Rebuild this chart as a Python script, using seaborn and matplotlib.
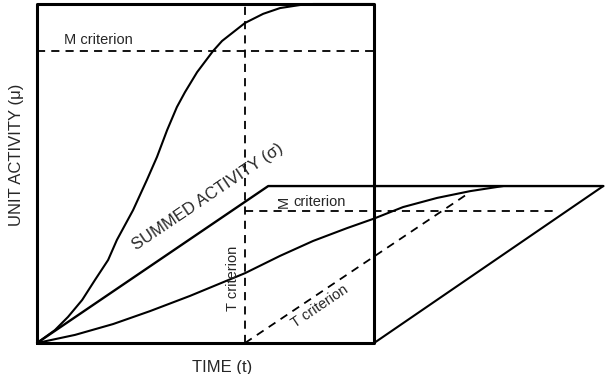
import matplotlib
matplotlib.use("Agg")
import matplotlib.pyplot as plt
import numpy as np
import seaborn as sns

# box outline (time, activity), the main square plus the perspective floor
box_t = [0, 0, 10, 10, 0]
box_a = [0, 10, 10, 0, 0]
floor_t = [10, 16.8]
floor_a = [0, 4.63]

# unit activity (mu) curve
unit_t = [0, 0.53, 0.92, 1.34, 1.72, 2.11, 2.37, 2.85, 3.26, 3.56, 3.86, 4.15,
          4.39, 4.75, 5.22, 5.49, 6.17, 6.71, 7.21, 7.80, 8.19, 10.0]
unit_a = [0, 0.38, 0.77, 1.27, 1.86, 2.45, 3.04, 3.92, 4.81, 5.49, 6.28, 6.96,
          7.40, 7.99, 8.61, 8.91, 9.44, 9.71, 9.88, 9.97, 10.0, 10.0]

# summed activity (sigma) line and the floor's back edge
sum_t = [0, 6.86, 16.8]
sum_a = [0, 4.63, 4.63]

# projected curve on the floor
low_t = [0, 1.13, 2.26, 3.35, 4.54, 6.17, 7.21, 8.19, 9.20, 9.97, 10.86,
         11.87, 12.85, 13.83]
low_a = [0, 0.24, 0.56, 0.94, 1.39, 2.06, 2.57, 3.01, 3.39, 3.66, 4.01,
         4.28, 4.48, 4.63]

# criteria (dashed)
t_crit = 6.17
m_crit_unit = 8.61
m_crit_sum = 3.89
m_crit_sum_end = 15.45
t_diag_t = [6.17, 12.85]
t_diag_a = [0, 4.45]

sns.set_style("white")
plt.rcParams["font.family"] = ["Liberation Sans", "DejaVu Sans"]

fig = plt.figure(figsize=(6.09, 3.74), dpi=100)
ax = fig.add_axes([0, 0, 1, 1])
ax.set_xlim(-1.098, 16.97)
ax.set_ylim(-0.914, 10.118)
ax.axis("off")

solid = dict(color="black", sort=False, estimator=None, legend=False, ax=ax)
sns.lineplot(x=box_t, y=box_a, linewidth=2.2, **solid)
sns.lineplot(x=floor_t, y=floor_a, linewidth=1.5, **solid)
sns.lineplot(x=unit_t, y=unit_a, linewidth=1.5, **solid)
sns.lineplot(x=sum_t, y=sum_a, linewidth=1.7, **solid)
sns.lineplot(x=low_t, y=low_a, linewidth=1.5, **solid)

dash = dict(color="black", linewidth=1.3, dashes=(4.5, 3.4))
ax.plot([0, 10], [m_crit_unit, m_crit_unit], **dash)
ax.plot([t_crit, t_crit], [0, 10], **dash)
ax.plot([t_crit, m_crit_sum_end], [m_crit_sum, m_crit_sum], **dash)
ax.plot(t_diag_t, t_diag_a, **dash)

ax.text(1.81, 8.94, "M criterion", fontsize=10.5, ha="center", va="center")
ax.text(-0.62, 5.55, "UNIT ACTIVITY (\u03bc)", fontsize=12, rotation=90,
        ha="center", va="center")
ax.text(5.49, -0.71, "TIME (t)", fontsize=12, ha="center", va="center")
ax.text(5.07, 4.32, "SUMMED ACTIVITY (\u03c3)", fontsize=12, rotation=34,
        ha="center", va="center", rotation_mode="anchor")
ax.text(7.33, 4.16, "M", fontsize=10.5, rotation=90, ha="center", va="center")
ax.text(7.60, 4.16, "criterion", fontsize=10.5, ha="left", va="center")
ax.text(5.82, 1.92, "T criterion", fontsize=10.5, rotation=90,
        ha="center", va="center")
ax.text(8.40, 1.09, "T criterion", fontsize=10.5, rotation=34,
        ha="center", va="center", rotation_mode="anchor")

fig.savefig("out.png", dpi=100)
